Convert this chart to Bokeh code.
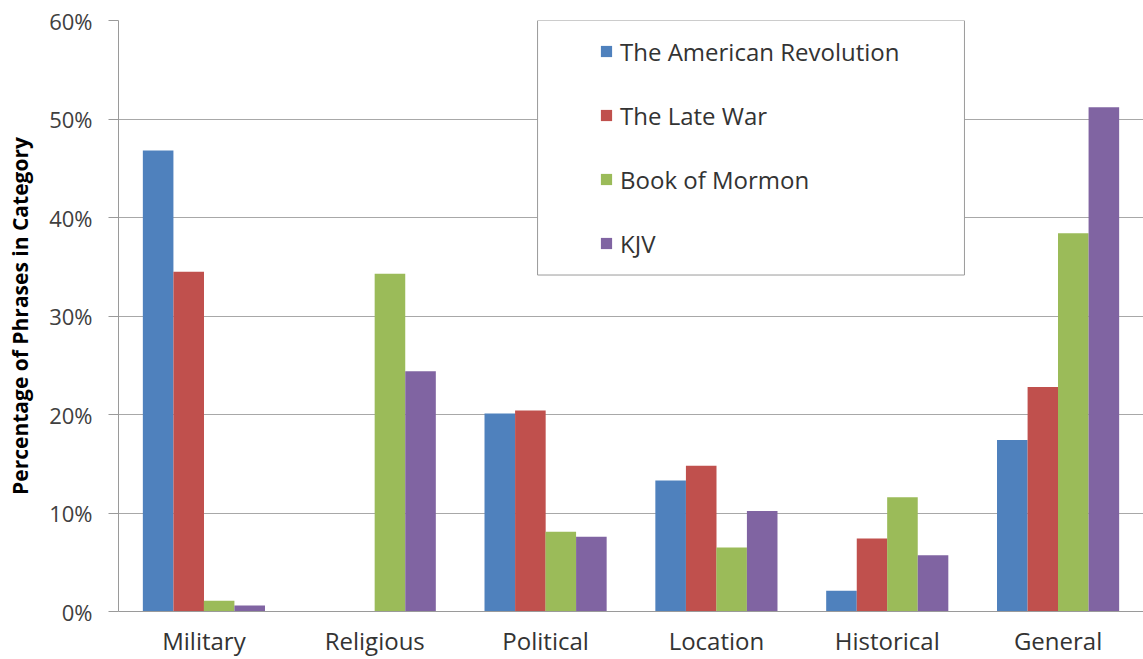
from bokeh.plotting import figure
from bokeh.models import (ColumnDataSource, FactorRange, Range1d, Legend, LegendItem,
                          BoxAnnotation, PrintfTickFormatter, FixedTicker)
from bokeh.transform import dodge
from bokeh.embed import file_html
from bokeh.resources import INLINE

categories = ["Military", "Religious", "Political", "Location", "Historical", "General"]
series = ["The American Revolution", "The Late War", "Book of Mormon", "KJV"]
american_revolution = [46.8, 0.0, 20.1, 13.3, 2.1, 17.4]
late_war = [34.5, 0.0, 20.4, 14.8, 7.4, 22.8]
book_of_mormon = [1.1, 34.3, 8.1, 6.5, 11.6, 38.4]
kjv = [0.6, 24.4, 7.6, 10.2, 5.7, 51.2]
colors = ["#4F81BD", "#C0504D", "#9BBB59", "#8064A2"]
y_ticks = [0, 10, 20, 30, 40, 50, 60]

source = ColumnDataSource(dict(cat=categories, s0=american_revolution, s1=late_war,
                               s2=book_of_mormon, s3=kjv))

FONT = "Open Sans"

p = figure(x_range=FactorRange(*categories), y_range=Range1d(0, 60),
           width=1143, height=659, output_backend="svg", toolbar_location=None,
           min_border_left=118, min_border_right=0, min_border_top=20, min_border_bottom=47)
p.outline_line_color = None
p.background_fill_color = "white"

offsets = [-0.268, -0.089, 0.089, 0.268]
renderers = []
for i, (name, col) in enumerate(zip(series, ["s0", "s1", "s2", "s3"])):
    r = p.vbar(x=dodge("cat", offsets[i], range=p.x_range), top=col, width=0.179,
               source=source, fill_color=colors[i], line_color=None)
    renderers.append(r)

# axes
p.yaxis.ticker = FixedTicker(ticks=y_ticks)
p.yaxis.formatter = PrintfTickFormatter(format="%d%%")
p.yaxis.major_label_text_font = FONT
p.yaxis.major_label_text_font_size = "22px"
p.yaxis.major_label_text_color = "#404040"
p.yaxis.major_tick_out = 10
p.yaxis.major_tick_in = 0
p.yaxis.minor_tick_line_color = None
p.yaxis.major_label_standoff = 16
p.yaxis.axis_line_color = "#9a9a9a"
p.yaxis.major_tick_line_color = "#9a9a9a"
p.yaxis.axis_label = "Percentage of Phrases in Category"
p.yaxis.axis_label_text_font = FONT
p.yaxis.axis_label_text_font_style = "bold"
p.yaxis.axis_label_text_font_size = "21px"
p.yaxis.axis_label_text_color = "#000000"
p.yaxis.axis_label_standoff = 12

p.xaxis.major_label_text_font = FONT
p.xaxis.major_label_text_font_size = "24px"
p.xaxis.major_label_text_color = "#333333"
p.xaxis.major_label_text_line_height = 1.0
p.xaxis.major_tick_line_color = None
p.xaxis.major_tick_out = 0
p.xaxis.major_tick_in = 0
p.xaxis.minor_tick_line_color = None
p.xaxis.axis_line_color = "#9a9a9a"
p.xaxis.major_label_standoff = 12

p.ygrid.grid_line_color = "#a8a8a8"
p.xgrid.grid_line_color = None

# legend frame
box = BoxAnnotation(left=2.453, right=4.952, top=60, bottom=34.16,
                    fill_color="white", fill_alpha=1.0,
                    line_color="#9a9a9a", line_width=1, line_alpha=1.0)
p.add_layout(box)

legend = Legend(items=[LegendItem(label=s, renderers=[r]) for s, r in zip(series, renderers)],
                location=(481, 350), padding=0, margin=0, spacing=28,
                glyph_width=14, glyph_height=14, label_height=36, label_standoff=7,
                label_text_font=FONT, label_text_font_size="24px",
                label_text_color="#333333",
                border_line_alpha=0, background_fill_alpha=0)
p.add_layout(legend)

open("out.html", "w").write(file_html(p, INLINE))
